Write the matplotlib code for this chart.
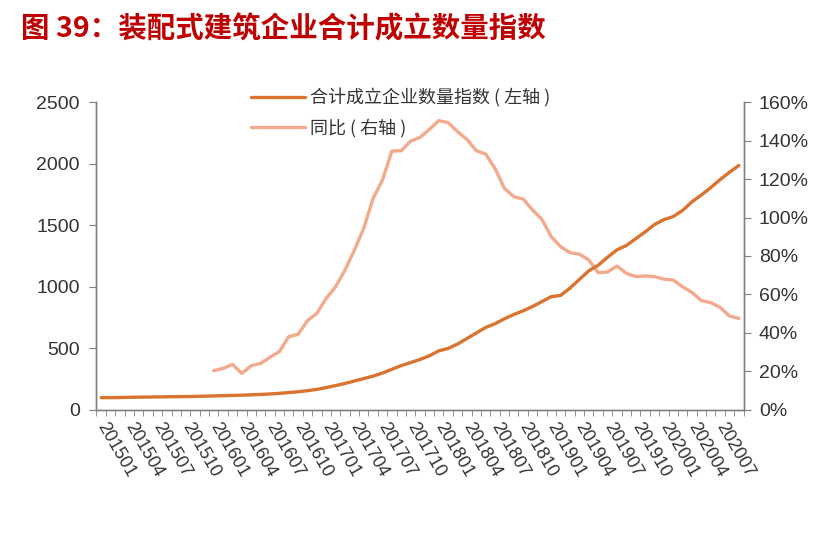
import numpy as np
import matplotlib
matplotlib.use('Agg')
import matplotlib.pyplot as plt
from matplotlib.ticker import FixedLocator, FuncFormatter

plt.rcParams['font.family'] = ['Noto Sans CJK SC', 'DejaVu Sans']

# monthly 201501 .. 202009
months = []
for y in range(2015, 2021):
    for m in range(1, 13):
        if y == 2020 and m > 9:
            break
        months.append('%d%02d' % (y, m))

index_vals = [100, 100, 101, 103, 104, 105, 106, 107, 108, 109, 110, 112,
              114, 116, 118, 120, 123, 126, 130, 135, 141, 148, 157, 167,
              182, 198, 215, 235, 255, 275, 300, 330, 360, 385, 410, 440,
              480, 500, 535, 580, 625, 670, 700, 740, 775, 805, 840, 880,
              920, 930, 990, 1060, 1130, 1175, 1240, 1300, 1335, 1390, 1445, 1505,
              1545, 1570, 1620, 1690, 1745, 1805, 1870, 1930, 1985]

# yoy starts at 201601
yoy_vals = [20.4, 21.6, 23.7, 19.0, 23.0, 24.2, 27.4, 30.3, 38.1, 39.3, 46.4, 50.2,
            58.0, 64.0, 72.7, 83.0, 94.4, 110.0, 119.5, 134.5, 134.7, 139.7, 141.6, 145.8,
            150.3, 149.3, 144.6, 140.6, 134.7, 133.0, 125.5, 115.2, 110.8, 109.6, 103.9, 99.0,
            90.0, 84.8, 81.7, 81.0, 77.9, 71.3, 71.7, 74.8, 71.0, 69.3, 69.6, 69.3,
            68.0, 67.5, 64.0, 61.1, 56.8, 55.8, 53.3, 48.8, 47.6]

title = '图 39：装配式建筑企业合计成立数量指数'
name_index = '合计成立企业数量指数 ( 左轴 )'
name_yoy = '同比 ( 右轴 )'

c_index = '#D9732F'
c_yoy = '#F3A98B'
c_text = '#333333'
c_axis = '#808080'
tick_font = ['Liberation Sans', 'DejaVu Sans']

x = np.arange(len(months))
x_yoy = np.arange(12, 12 + len(yoy_vals))

fig = plt.figure(figsize=(8.29, 5.47), dpi=100)
ax = fig.add_axes([0.1164, 0.2505, 0.7805, 0.563])
ax2 = ax.twinx()

l1, = ax.plot(x, index_vals, color=c_index, lw=2.4, solid_capstyle='round')
l2, = ax2.plot(x_yoy, np.array(yoy_vals) / 100, color=c_yoy, lw=2.4, solid_capstyle='round')

ax.set_zorder(ax2.get_zorder() + 1)
ax.patch.set_visible(False)

ax.set_xlim(-0.5, len(months) - 0.5)
ax.set_ylim(0, 2500)
ax2.set_ylim(0, 1.6)
ax.set_yticks(np.arange(0, 2501, 500))
ax2.set_yticks(np.arange(0, 1.61, 0.2))
ax2.yaxis.set_major_formatter(FuncFormatter(lambda v, p: '%d%%' % round(v * 100)))

ax.set_xticks(x[::3])
ax.set_xticklabels(months[::3], rotation=-60, ha='left', va='center',
                   rotation_mode='anchor')
ax.xaxis.set_minor_locator(FixedLocator(np.arange(-0.5, len(months), 1)))
ax.tick_params(axis='x', which='major', length=0, pad=10, labelsize=13, labelcolor=c_text)
ax.tick_params(axis='x', which='minor', length=4, color=c_axis, direction='out')
ax.tick_params(axis='y', length=5, color=c_axis, labelsize=14, labelcolor=c_text, pad=7)
ax2.tick_params(axis='y', length=5, color=c_axis, labelsize=14, labelcolor=c_text, pad=6)
for lab in ax.get_xticklabels() + ax.get_yticklabels() + ax2.get_yticklabels():
    lab.set_family(tick_font)

for a in (ax, ax2):
    a.spines['top'].set_visible(False)
    for s in ('left', 'right', 'bottom'):
        a.spines[s].set_color(c_axis)
        a.spines[s].set_linewidth(1.0)

fig.legend([l1, l2], [name_index, name_yoy], loc='upper left',
           bbox_to_anchor=(0.283, 0.868), frameon=False, fontsize=13,
           labelcolor=c_text, handlelength=3.0, handletextpad=0.3,
           labelspacing=0.6)

fig.text(0.025, 0.947, title, color='#C00000', fontsize=20.5, fontweight='bold',
         va='center', ha='left')

fig.savefig('out.png', dpi=100)
